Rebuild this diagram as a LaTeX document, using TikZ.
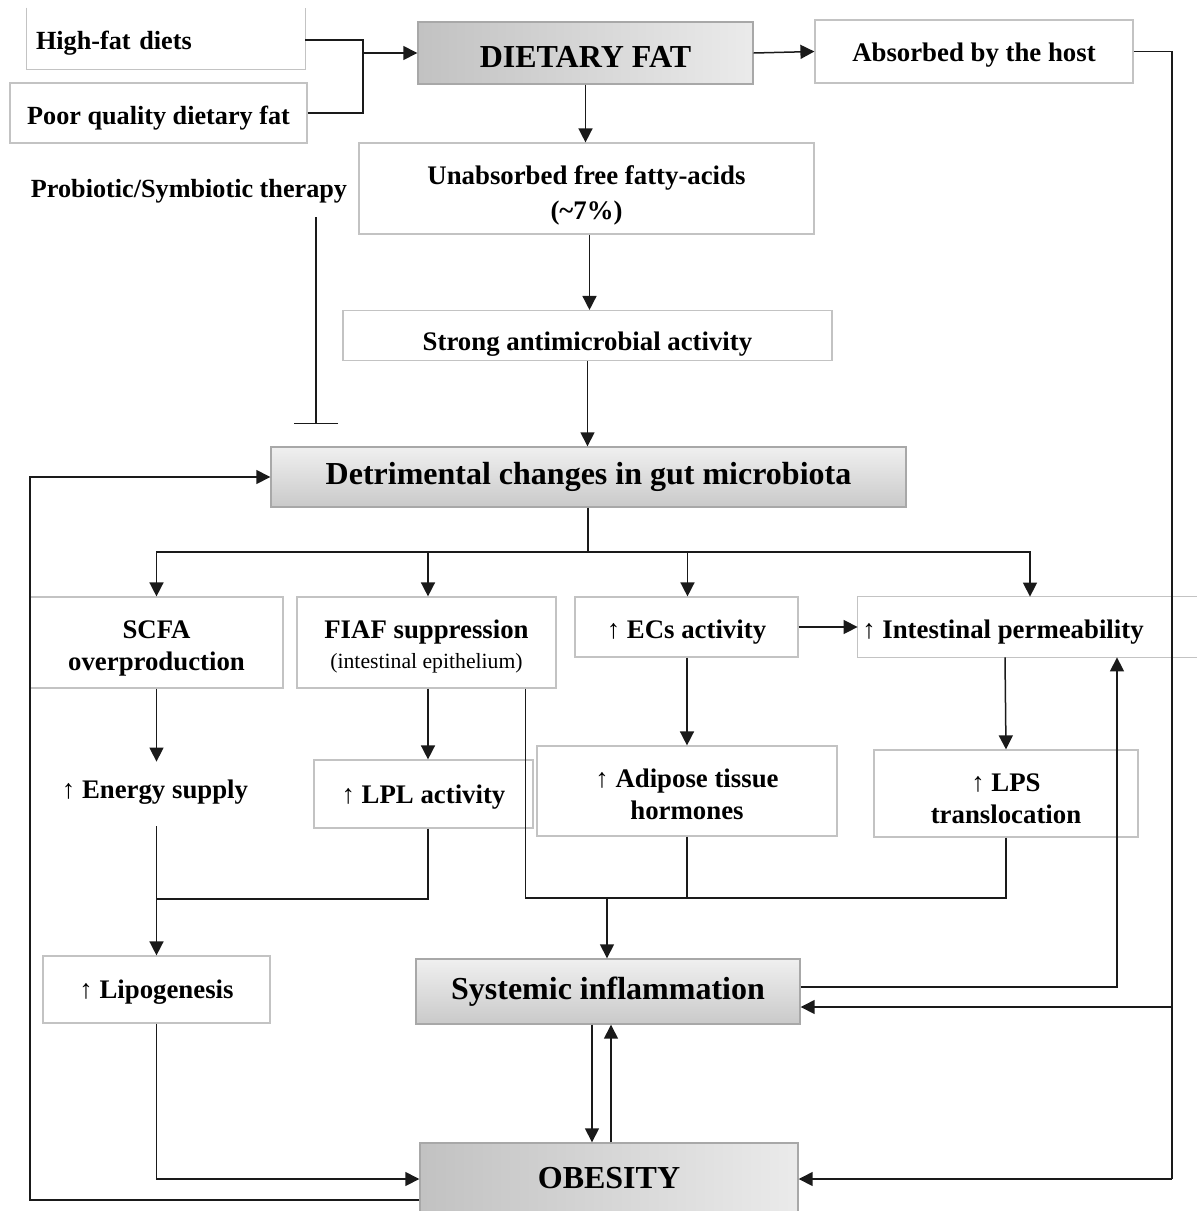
\documentclass[tikz,border=0pt]{standalone}
\usepackage{fontspec}
\setmainfont{Liberation Serif}
\usetikzlibrary{arrows.meta,calc}
\definecolor{boxc}{HTML}{C3C3C3}
\definecolor{gboxc}{HTML}{A8A8A8}
\definecolor{linec}{HTML}{1A1A1A}
\newcommand{\lift}[1]{\rule{0pt}{#1}}
\begin{document}
\begin{tikzpicture}[x=0.5pt,y=-0.5pt,
  box/.style={draw=boxc,line width=0.6pt,align=center,inner sep=2pt},
  plain/.style={align=center,inner sep=2pt},
  hgrad/.style={draw=gboxc,line width=0.7pt,left color=gray!48,right color=gray!16,align=center},
  vgrad/.style={draw=gboxc,line width=0.7pt,top color=gray!12,bottom color=gray!42,align=center},
  fbig/.style={font=\bfseries\fontsize{16}{19}\selectfont},
  fmed/.style={font=\bfseries\fontsize{13.4}{16}\selectfont},
  fsm/.style={font=\bfseries\fontsize{13.1}{16}\selectfont},
  lowtext/.style={execute at begin node={\rule{0pt}{#1}}},
  lowtext/.default=14pt,
  line/.style={draw=linec,line width=0.75pt},
  arr/.style={line,-{Triangle[length=7pt,width=7pt]}},
  inhib/.style={line,-{Bar[width=22pt]}},
]
\useasboundingbox (0,0) rectangle (1197,1211);

% top-left inputs
\node[plain,fsm,lowtext,minimum width=139pt,minimum height=30.5pt,text width=130pt,align=left,inner xsep=4.5pt] (hf) at (166,38.5) {High-fat diets};
\draw[draw=boxc,line width=0.6pt] (hf.north west) |- (hf.south east) -- (hf.north east);
\node[box,fsm,lowtext,minimum width=148.5pt,minimum height=30pt] (pq) at (158.5,113) {Poor quality dietary fat};
\node[plain,fsm] (prob) at (189,191) {Probiotic/Symbiotic therapy};

% main column
\node[hgrad,fbig,lowtext=15pt,minimum width=167.5pt,minimum height=31pt] (df) at (585.5,53) {DIETARY FAT};
\node[box,fmed,lowtext=13pt,minimum width=159pt,minimum height=31.5pt] (abs) at (974,51.5) {Absorbed by the host};
\node[box,fmed,font=\bfseries\fontsize{13.4}{17.5}\selectfont,minimum width=227.5pt,minimum height=45.5pt] (unabs) at (586.5,188.5) {\lift{16pt}Unabsorbed free fatty-acids\\(\textasciitilde7\%)};
\node[box,fmed,lowtext=18pt,minimum width=244.5pt,minimum height=24.5pt] (strong) at (587.5,335.5) {Strong antimicrobial activity};
\node[vgrad,fbig,minimum width=317.5pt,minimum height=30pt] (detr) at (588.5,477) {Detrimental changes in gut microbiota};

% second row
\node[box,fmed,minimum width=126.5pt,minimum height=45.5pt] (scfa) at (156.5,642.5) {\lift{15pt}SCFA\\overproduction};
\node[box,fmed,minimum width=129.5pt,minimum height=45.5pt] (fiaf) at (426.5,642.5) {\lift{13pt}FIAF suppression\\[-1pt]{\mdseries\fontsize{10.85}{12}\selectfont (intestinal epithelium)}};
\node[box,fmed,lowtext,minimum width=111.5pt,minimum height=30pt] (ecs) at (686.5,627) {↑ ECs activity};
\node[plain,fmed,lowtext,minimum width=145pt,minimum height=30pt] (intp) at (1003,627) {↑ Intestinal permeability};
\draw[draw=boxc,line width=0.6pt] (intp.south west) rectangle ($(intp.north east)+(70,0)$);

% third row
\node[plain,fmed,minimum height=30pt] (energy) at (155,792) {↑ Energy supply};
\node[box,fmed,lowtext=12pt,minimum width=109.5pt,minimum height=34pt] (lpl) at (423.5,794) {↑ LPL activity};
\node[box,fmed,minimum width=150pt,minimum height=45pt] (adip) at (687,791) {\lift{13pt}↑ Adipose tissue\\hormones};
\node[box,fmed,minimum width=132pt,minimum height=43.5pt] (lps) at (1006,793.5) {\lift{14pt}↑ LPS\\translocation};

% bottom
\node[box,fmed,lowtext=12pt,minimum width=113.5pt,minimum height=33.5pt] (lipo) at (156.5,989.5) {↑ Lipogenesis};
\node[vgrad,fbig,minimum width=192pt,minimum height=32.5pt] (sys) at (608,991.5) {Systemic inflammation};
\node[hgrad,fbig,minimum width=189pt,minimum height=35pt] (obes) at (609,1178) {OBESITY};

% connectors top
\coordinate (j1) at (363,53);
\draw[line] (hf.east |- 0,40) -| (j1);
\draw[line] (pq.east) -| (j1);
\draw[arr] (j1) -- (df.west);
\draw[arr] (df.east) -- (abs.west);
\coordinate (r1) at (1172,1007);
\coordinate (r2) at (1172,1179);
\draw[line] (abs.east) -| (r2);
\draw[arr] (r1) -- (sys.east |- r1);
\draw[arr] (r2) -- (obes.east |- r2);

\draw[arr] (df.south) -- (df.south |- unabs.north);
\draw[arr] ($(unabs.south)+(3,0)$) -- ($(strong.north)+(2,0)$);
\draw[arr] (strong.south) -- (strong.south |- detr.north);

\coordinate (pt) at (316,424);
\draw[inhib] (prob.south -| pt) ++(0,10) -- (pt);

% branching from detrimental
\coordinate (b0) at (588,552);
\draw[line] (detr.south -| b0) -- (b0);
\draw[arr] (b0) -| (scfa.north);
\draw[arr] (b0) -| ($(fiaf.north)+(1.5,0)$);
\draw[arr] (b0) -| ($(ecs.north)+(1,0)$);
\draw[arr] (b0) -| ($(intp.north)+(27,0)$);

\draw[arr] (scfa.south) -- (scfa.south |- energy.north);
\draw[arr] ($(fiaf.south)+(1.5,0)$) -- ($(fiaf.south |- lpl.north)+(1.5,0)$);
\draw[arr] ($(ecs.south)+(0.5,0)$) -- (adip.north);
\draw[arr] (ecs.east) -- (intp.west);
\draw[arr] ($(intp.south)+(2,0)$) -- (lps.north);

% to lipogenesis
\coordinate (je) at (156.5,899);
\draw[arr] (energy.south -| je) ++(0,4) -- (lipo.north);
\draw[line] ($(lpl.south)+(4.5,0)$) |- (je);

% to systemic inflammation
\coordinate (jm) at (607,898);
\draw[line] ($(fiaf.south east)+(-31,0)$) |- (jm);
\draw[line] (adip.south) |- (jm);
\draw[line] (lps.south) |- (jm);
\draw[arr] (jm) -- (sys.north -| jm);

\coordinate (sr) at (1117,987);
\draw[arr] (sys.east |- sr) -| (intp.south -| sr);

% systemic <-> obesity
\draw[arr] ($(sys.south)+(-16,0)$) -- ($(obes.north)+(-17,0)$);
\draw[arr] ($(obes.north)+(2,0)$) -- ($(sys.south)+(3,0)$);

% lipogenesis -> obesity
\draw[arr] (lipo.south -| je) |- ($(obes.west)+(0,1)$);

% obesity loop back to detrimental
\coordinate (lb) at (30,1200);
\draw[arr] (obes.west |- lb) -- (lb) |- (detr.west);
\end{tikzpicture}
\end{document}
